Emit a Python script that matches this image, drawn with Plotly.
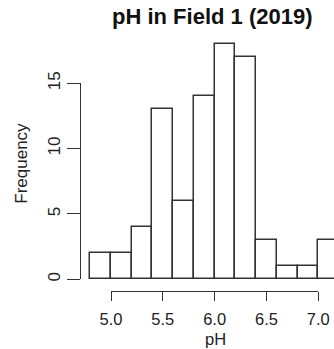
import plotly.graph_objects as go

# Data
bin_starts = [4.8, 5.0, 5.2, 5.4, 5.6, 5.8, 6.0, 6.2, 6.4, 6.6, 6.8, 7.0]
bin_width = 0.2
counts = [2, 2, 4, 13, 6, 14, 18, 17, 3, 1, 1, 3]
x_ticks = [5.0, 5.5, 6.0, 6.5, 7.0]
x_ticklabels = ["5.0", "5.5", "6.0", "6.5", "7.0"]
y_ticks = [0, 5, 10, 15]

W, H = 334, 349
def px(x): return x / W
def py(y): return 1 - y / H

# pixel calibration
x5, x7 = 111.0, 318.3
ppx = (x7 - x5) / 2.0
y0, y15 = 279.3, 83.3
ppy = (y0 - y15) / 15.0

xr = [5.0 - x5 / ppx, 5.0 + (W - x5) / ppx]
yr = [-(H - y0) / ppy, y0 / ppy]

font = "Liberation Sans, Arial, sans-serif"
col = "#333333"

fig = go.Figure()
fig.add_trace(go.Bar(
    x=[s + bin_width / 2 for s in bin_starts], y=counts, width=bin_width,
    marker=dict(color="white", line=dict(color=col, width=1.5)),
    xaxis="x", yaxis="y", showlegend=False, hoverinfo="skip"))
# dummy trace for secondary axes
fig.add_trace(go.Scatter(x=[5.0], y=[0], xaxis="x2", yaxis="y2", mode="markers",
                         marker=dict(opacity=0), showlegend=False, hoverinfo="skip"))

fig.update_layout(
    width=W, height=H, margin=dict(l=0, r=0, t=0, b=0, pad=0, autoexpand=False),
    autosize=False,
    paper_bgcolor="white", plot_bgcolor="rgba(0,0,0,0)",
    bargap=0,
    xaxis=dict(domain=[0, 1], range=xr, visible=False, fixedrange=True, automargin=False),
    yaxis=dict(domain=[0, 1], range=yr, visible=False, fixedrange=True, automargin=False),
    xaxis2=dict(domain=[px(x5), px(x7)], range=[5.0, 7.0], anchor="free",
                position=py(291), showline=True, linecolor=col, automargin=False,
                linewidth=1.3, ticks="outside", ticklen=9, tickwidth=1.3, tickcolor=col,
                tickvals=x_ticks, ticktext=x_ticklabels, showgrid=False, zeroline=False,
                tickfont=dict(family=font, size=16.5, color="#222"), ticklabelstandoff=4),
    yaxis2=dict(domain=[py(y0), py(y15)], range=[0, 15], anchor="free",
                position=px(80.3), showline=True, linecolor=col, linewidth=1.3,
                ticks="outside", ticklen=13, tickwidth=1.3, tickcolor=col, automargin=False,
                tickvals=y_ticks, tickangle=-90, showgrid=False, zeroline=False,
                tickfont=dict(family=font, size=17, color="#222")),
    annotations=[
        dict(text="<b>pH in Field 1 (2019)</b>", x=px(212), y=py(16), xref="paper", yref="paper",
             showarrow=False, font=dict(family=font, size=22, color="#111"),
             xanchor="center", yanchor="middle"),
        dict(text="pH", x=px(215), y=py(338.5), xref="paper", yref="paper",
             showarrow=False, font=dict(family=font, size=16.5, color="#222"),
             xanchor="center", yanchor="middle"),
        dict(text="Frequency", x=px(21.7), y=py(163), xref="paper", yref="paper",
             showarrow=False, textangle=-90, font=dict(family=font, size=17, color="#222"),
             xanchor="center", yanchor="middle"),
    ],
)
fig.write_html("out.html")
